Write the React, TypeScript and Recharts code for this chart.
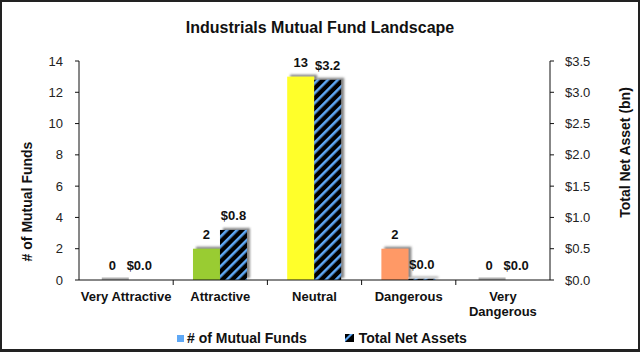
import { BarChart, Bar, XAxis, YAxis, Cell, LabelList } from "recharts"

const categories = ["Very Attractive", "Attractive", "Neutral", "Dangerous", "Very Dangerous"]
const categoryLines = [["Very Attractive"], ["Attractive"], ["Neutral"], ["Dangerous"], ["Very", "Dangerous"]]
const fundCounts = [0, 2, 13, 2, 0]
const netAssets = [0, 0.8, 3.2, 0.02, 0]
const countColors = ["#a8a8a8", "#99cc33", "#ffff2b", "#ff9966", "#a8a8a8"]
const countTicks = [0, 2, 4, 6, 8, 10, 12, 14]
const assetTicks = [0, 0.5, 1, 1.5, 2, 2.5, 3, 3.5]

const data = categories.map((name, i) => ({
  name,
  funds: fundCounts[i],
  assets: netAssets[i],
}))

const FONT = '"Liberation Sans", Arial, sans-serif'
const BLUE = "#5fa8f5"
const PLOT_LEFT = 79
const PLOT_RIGHT = 550

function money(v: number) {
  return `$${v.toFixed(1)}`
}

function CountShape(props: any) {
  const { x, y, width, height, fill } = props
  if (!height || height < 1) {
    return <rect x={x + 3} y={y - 2.5} width={width} height={2.5} fill="#b0b0b0" />
  }
  return <rect x={x} y={y} width={width} height={height} fill={fill} filter="url(#barShadow)" />
}

function AssetShape(props: any) {
  const { x, y, width, height } = props
  if (!height || height <= 0) return <g />
  return <rect x={x} y={y} width={width} height={height} fill="url(#hatch)" filter="url(#barShadow)" />
}

function CategoryTick(props: any) {
  const { x, y, index } = props
  const band = (PLOT_RIGHT - PLOT_LEFT) / categories.length
  const lines = categoryLines[index] || [props.payload.value]
  return (
    <g>
      {index < categories.length - 1 && (
        <line x1={x + band / 2} x2={x + band / 2} y1={y} y2={y + 5} stroke="#111" />
      )}
      <text
        x={x}
        y={y + 21}
        textAnchor="middle"
        fontFamily={FONT}
        fontSize={13}
        fontWeight="bold"
        fill="#111"
      >
        {lines.map((l: string, i: number) => (
          <tspan key={l} x={x} dy={i === 0 ? 0 : 15}>
            {l}
          </tspan>
        ))}
      </text>
    </g>
  )
}

export default function App() {
  const labelStyle = { fontFamily: FONT, fontSize: 13, fontWeight: "bold", fill: "#111" }
  const tickStyle = { fontFamily: FONT, fontSize: 13, fill: "#222" }

  return (
    <div
      style={{
        position: "absolute",
        left: 0,
        top: 0,
        width: 640,
        height: 352,
        background: "#fff",
        border: "2px solid #222",
        borderBottomWidth: 3,
        boxSizing: "border-box",
        overflow: "hidden",
        fontFamily: FONT,
      }}
    >
      <div
        style={{
          position: "absolute",
          left: 0,
          top: 18,
          width: 636,
          textAlign: "center",
          fontSize: 16,
          lineHeight: "16px",
          fontWeight: "bold",
          color: "#111",
        }}
      >
        Industrials Mutual Fund Landscape
      </div>

      <div style={{ position: "absolute", left: -2, top: -2 }}>
        <BarChart
          width={640}
          height={352}
          data={data}
          margin={{ top: 61, right: 0, left: 0, bottom: 42 }}
          barCategoryGap="21%"
          barGap={0}
        >
          <defs>
            <pattern
              id="hatch"
              width="7"
              height="7"
              patternUnits="userSpaceOnUse"
              patternTransform="rotate(45)"
            >
              <rect width="7" height="7" fill="#000" />
              <rect width="2.6" height="7" fill={BLUE} />
            </pattern>
            <filter id="barShadow" filterUnits="userSpaceOnUse" x="0" y="0" width="640" height="352">
              <feDropShadow dx="3" dy="-2" stdDeviation="1" floodColor="#555" floodOpacity="0.7" />
            </filter>
          </defs>
          <XAxis
            dataKey="name"
            xAxisId={0}
            height={30}
            tickSize={0}
            tickMargin={0}
            tickLine={false}
            axisLine={{ stroke: "#111" }}
            tick={<CategoryTick />}
            interval={0}
          />
          <YAxis
            yAxisId="left"
            width={PLOT_LEFT}
            domain={[0, 14]}
            ticks={countTicks}
            interval={0}
            tickSize={4}
            tickMargin={12}
            axisLine={{ stroke: "#111" }}
            tickLine={{ stroke: "#111" }}
            tick={tickStyle}
            label={{
              content: (p: any) => {
                const vb = p.viewBox
                const cx = vb.x + 27
                const cy = vb.y + vb.height / 2 + 31
                return (
                  <text
                    x={cx}
                    y={cy}
                    transform={`rotate(-90 ${cx} ${cy})`}
                    textAnchor="middle"
                    dominantBaseline="central"
                    fontFamily={FONT}
                    fontSize={14}
                    fontWeight="bold"
                    fill="#111"
                  >
                    # of Mutual Funds
                  </text>
                )
              },
            }}
          />
          <YAxis
            yAxisId="right"
            orientation="right"
            width={640 - PLOT_RIGHT}
            domain={[0, 3.5]}
            ticks={assetTicks}
            interval={0}
            tickFormatter={money}
            tickSize={4}
            tickMargin={11}
            axisLine={{ stroke: "#111" }}
            tickLine={{ stroke: "#111" }}
            tick={tickStyle}
            label={{
              content: (p: any) => {
                const vb = p.viewBox
                const cx = vb.x + 75
                const cy = vb.y + vb.height / 2 - 18
                return (
                  <text
                    x={cx}
                    y={cy}
                    transform={`rotate(-90 ${cx} ${cy})`}
                    textAnchor="middle"
                    dominantBaseline="central"
                    fontFamily={FONT}
                    fontSize={14}
                    fontWeight="bold"
                    fill="#111"
                  >
                    Total Net Asset (bn)
                  </text>
                )
              },
            }}
          />
          <Bar
            dataKey="funds"
            yAxisId="left"
            isAnimationActive={false}
            shape={<CountShape />}
          >
            {data.map((d, i) => (
              <Cell key={d.name} fill={countColors[i]} />
            ))}
            <LabelList dataKey="funds" position="top" offset={10} style={labelStyle} />
          </Bar>
          <Bar
            dataKey="assets"
            yAxisId="right"
            isAnimationActive={false}
            shape={<AssetShape />}
          >
            <LabelList
              dataKey="assets"
              position="top"
              offset={10}
              formatter={(v: any) => money(Number(v))}
              style={labelStyle}
            />
          </Bar>
        </BarChart>
      </div>

      <div
        style={{
          position: "absolute",
          left: 175,
          top: 328,
          display: "flex",
          alignItems: "center",
          fontSize: 14,
          fontWeight: "bold",
          color: "#111",
          lineHeight: "16px",
        }}
      >
        <span style={{ width: 7, height: 7, background: BLUE, marginRight: 3 }} />
        <span># of Mutual Funds</span>
        <svg width={9} height={8} style={{ marginLeft: 38, marginRight: 5 }}>
          <rect width={9} height={8} fill="#000" />
          <polygon points="0,8 0,5 5,0 8,0" fill={BLUE} />
        </svg>
        <span>Total Net Assets</span>
      </div>
    </div>
  )
}
